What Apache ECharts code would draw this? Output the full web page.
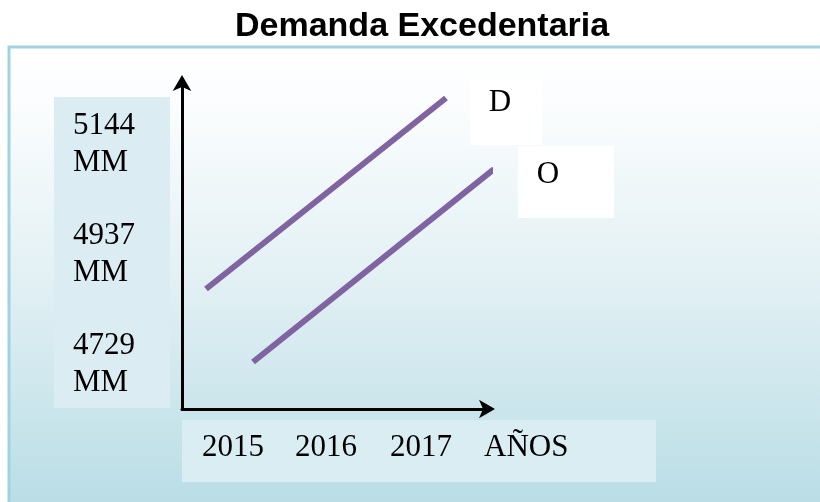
<!DOCTYPE html>
<html>
<head>
<meta charset="utf-8">
<script src="https://cdn.jsdelivr.net/npm/echarts@6/dist/echarts.min.js"></script>
<style>
  html, body { margin: 0; padding: 0; background: #fff; }
  #chart { width: 820px; height: 502px; }
</style>
</head>
<body>
<div id="chart"></div>
<script>
// schematic lines, x = offset from the origin, y = height above the x axis
const demandaX = [24, 264]
const demandaY = [120, 311]
const ofertaX = [71, 312]
const ofertaY = [47, 240]
const lineNames = ['D', 'O']
// tick labels (they sit in their own boxes, not on the ticks)
const yLabels = ['5144\nMM', '4937\nMM', '4729\nMM']
const xLabels = ['2015', '2016', '2017', 'AÑOS']

const serif = '"Liberation Serif", "DejaVu Serif", serif'

const chart = echarts.init(document.getElementById('chart'))

const pairs = (xs, ys) => xs.map((x, i) => [x, ys[i]])

// label boxes drawn as graphics
const graphic = [
  {
    type: 'rect',
    z: -10,
    shape: { x: 9, y: 47, width: 820, height: 470 },
    style: {
      fill: new echarts.graphic.LinearGradient(0, 0, 0, 1, [
        { offset: 0, color: '#ffffff' },
        { offset: 0.12, color: '#fbfdfe' },
        { offset: 0.5, color: '#e2f0f4' },
        { offset: 1, color: '#b7dce5' }
      ]),
      stroke: '#9fd3e0',
      lineWidth: 3
    }
  },
  { type: 'rect', z: -5, shape: { x: 54, y: 97, width: 116, height: 311 }, style: { fill: '#dbedf3' } },
  { type: 'rect', z: -5, shape: { x: 182, y: 420, width: 474, height: 62 }, style: { fill: '#daedf3' } },
  { type: 'rect', z: -5, shape: { x: 470, y: 78, width: 72, height: 67 }, style: { fill: '#ffffff' } },
  { type: 'rect', z: -5, shape: { x: 518, y: 146, width: 96, height: 72 }, style: { fill: '#ffffff' } }
]

const yCenters = [144, 254, 364]
yLabels.forEach((t, i) => {
  graphic.push({
    type: 'text', left: 73, top: yCenters[i] - 37,
    style: { text: t, font: '31px ' + serif, fill: '#000', lineHeight: 37 }
  })
})
const xStarts = [202, 295, 390, 484]
xLabels.forEach((t, i) => {
  graphic.push({
    type: 'text', left: xStarts[i], top: 432,
    style: { text: t, font: '31px ' + serif, fill: '#000' }
  })
})
const namePos = [[500, 103], [548, 175]]
lineNames.forEach((t, i) => {
  graphic.push({
    type: 'text', x: namePos[i][0], y: namePos[i][1],
    style: { text: t, font: '31px ' + serif, fill: '#000', align: 'center', verticalAlign: 'middle' }
  })
})

const option = {
  animation: false,
  title: {
    text: 'Demanda Excedentaria',
    left: 230,
    top: 5,
    textStyle: { fontFamily: '"Liberation Sans", Arial, sans-serif', fontSize: 34, fontWeight: 'bold', color: '#000' }
  },
  grid: { left: 182, top: 80, width: 308, height: 329 },
  xAxis: {
    type: 'value', min: 0, max: 308,
    axisLine: { show: true, lineStyle: { color: '#000', width: 3 }, symbol: ['none', 'arrow'], symbolSize: [14, 16], symbolOffset: [0, 5] },
    axisTick: { show: false }, axisLabel: { show: false }, splitLine: { show: false }
  },
  yAxis: {
    type: 'value', min: 0, max: 329,
    axisLine: { show: true, lineStyle: { color: '#000', width: 3 }, symbol: ['none', 'arrow'], symbolSize: [14, 16], symbolOffset: [0, 5] },
    axisTick: { show: false }, axisLabel: { show: false }, splitLine: { show: false }
  },
  series: [
    { name: lineNames[0], type: 'line', clip: false, data: pairs(demandaX, demandaY), symbol: 'none', lineStyle: { color: '#8064a2', width: 6 } },
    { name: lineNames[1], type: 'line', clip: false, data: pairs(ofertaX, ofertaY), symbol: 'none', lineStyle: { color: '#8064a2', width: 6 } }
  ],
  graphic: graphic
}
chart.setOption(option)
</script>
</body>
</html>
